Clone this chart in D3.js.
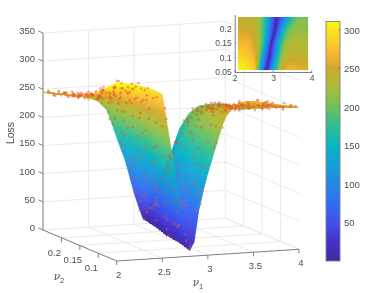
<!DOCTYPE html>
<html>
<head>
<meta charset="utf-8">
<script src="https://cdnjs.cloudflare.com/ajax/libs/d3/7.8.5/d3.min.js"></script>
<style>
  html, body { margin: 0; padding: 0; background: #fff; }
  svg { display: block; filter: blur(0.3px); }
  text { font-family: "Liberation Sans", Arial, sans-serif; fill: #4d4d4d; }
</style>
</head>
<body>
<div id="chartContainer"></div>
<script>
"use strict";

// loss surface, one list per nu2 row
var nu1Grid = [2, 2.1, 2.2, 2.3, 2.4, 2.5, 2.6, 2.7, 2.75, 2.8, 2.85, 2.9, 2.95, 3, 3.05, 3.1, 3.15, 3.2, 3.3, 3.4, 3.5, 3.6, 3.7, 3.8, 3.9, 4];
var nu2Grid = [0.05, 0.1, 0.15, 0.2, 0.25];
var lossAt005 = [316, 314, 311, 306, 300, 291, 190, 95, 50, 10, 25, 80, 115, 145, 172, 198, 225, 245, 262, 268, 268, 265, 262, 258, 255, 252];
var lossAt010 = [285, 289, 288, 284, 278, 268, 235, 150, 110, 75, 40, 8, 45, 85, 120, 152, 180, 205, 235, 245, 246, 245, 243, 241, 240, 238];
var lossAt015 = [265, 267, 269, 268, 262, 250, 235, 195, 165, 130, 95, 55, 7, 45, 80, 112, 145, 172, 212, 225, 230, 231, 229, 227, 225, 224];
var lossAt020 = [255, 252, 249, 249, 248, 243, 228, 200, 180, 158, 130, 100, 70, 38, 6, 35, 75, 108, 165, 192, 208, 214, 214, 212, 210, 208];
var lossAt025 = [245, 242, 240, 237, 233, 230, 223, 206, 184, 160, 137, 115, 85, 55, 30, 8, 25, 45, 85, 120, 165, 190, 202, 204, 204, 203];
var lossRows = [lossAt005, lossAt010, lossAt015, lossAt020, lossAt025];
// where each row has its minimum, the valley runs at a slant
var valleyNu1 = [2.8, 2.9, 2.95, 3.05, 3.1];

// tick labels
var lossTicks = [0, 50, 100, 150, 200, 250, 300, 350];
var nu1Ticks = [2, 2.5, 3, 3.5, 4];
var nu2Ticks = [0.1, 0.15, 0.2];
var colorbarTicks = [50, 100, 150, 200, 250, 300];
var insetNu1Ticks = [2, 3, 4];
var insetNu2Ticks = [0.05, 0.1, 0.15, 0.2];

// sampled points: estimated position on the surface and how far off it they sit
var sampleNu1 = [
  2.03,2.17,2.26,2.38,2.47,2.55,2.63,2.72,2.81,2.93,3.02,3.11,3.24,3.33,3.41,3.56,3.64,3.77,3.85,3.96,
  2.08,2.13,2.31,2.42,2.51,2.58,2.69,2.77,2.88,2.97,3.07,3.18,3.27,3.38,3.49,3.52,3.71,3.79,3.92,3.99,
  2.01,2.22,2.29,2.36,2.49,2.61,2.66,2.75,2.84,2.91,3.04,3.14,3.21,3.36,3.44,3.59,3.68,3.74,3.88,3.94,
  2.11,2.19,2.34,2.44,2.53,2.57,2.67,2.79,2.86,2.99,3.09,3.16,3.29,3.31,3.47,3.54,3.62,3.82,3.9,3.98,
  2.06,2.24,2.28,2.41,2.46,2.62,2.71,2.74,2.83,2.95,3.01,3.13,3.23,3.35,3.43,3.58,3.66,3.76,3.87,3.93,
  2.02,2.15,2.33,2.39,2.54,2.59,2.68,2.78,2.89,2.94,3.06,3.19,3.26,3.39,3.46,3.51,3.73,3.81,3.89,3.97,
  2.09,2.21,2.27,2.43,2.48,2.64,2.7,2.76,2.85,2.98,3.03,3.12,3.22,3.32,3.42,3.57,3.63,3.78,3.84,3.95,
  2.04,2.18,2.32,2.37,2.52,2.56,2.65,2.73,2.87,2.92,3.08,3.17,3.28,3.37,3.48,3.53,3.69,3.83,3.91,3.99,
  2.07,2.12,2.35,2.45,2.5,2.6,2.72,2.8,2.82,2.96,3.05,3.15,3.25,3.34,3.45,3.55,3.67,3.75,3.86,3.92,
  2.05,2.23,2.3,2.4,2.55,2.63,2.68,2.74,2.9,3,3.1,3.2,3.3,3.4,3.5,3.61,3.7,3.8,3.93,3.97,
  2.1,2.16,2.25,2.36,2.47,2.58,2.66,2.77,2.86,2.97,3.07,3.13,3.24,3.33,3.44,3.6,3.65,3.72,3.85,3.96,
  2.02,2.2,2.34,2.42,2.52,2.61,2.7,2.79,2.88,2.93,3.04,3.18,3.27,3.36,3.47,3.56,3.71,3.79,3.88,3.94,
  2.14,2.27,2.31,2.44,2.49,2.57,2.69,2.76,2.84,2.99,3.02,3.11,3.21,3.38,3.41,3.52,3.64,3.77,3.9,4,
  2,2.19,2.28,2.38,2.53,2.62,2.71,2.81,2.92,2.95,3.09,3.16,3.26,3.35,3.49,3.54,3.68,3.82,3.87,3.98,
  2.06,2.12,2.24,2.41,2.46,2.59,2.64,2.73,2.83,2.94,3.06,3.14,3.29,3.32,3.43,3.58,3.62,3.74,3.83,3.91,
  // the two nearly flat tails carry many more samples
  2.02,2.07,2.11,2.16,2.21,2.26,2.31,2.36,2.41,2.46,3.62,3.66,3.7,3.74,3.78,3.82,3.86,3.9,3.94,3.98,
  2.04,2.09,2.14,2.18,2.23,2.28,2.33,2.38,2.43,2.48,3.6,3.64,3.68,3.72,3.76,3.8,3.84,3.88,3.92,3.96,
  2.01,2.06,2.12,2.17,2.22,2.27,2.32,2.35,2.42,2.45,3.63,3.67,3.71,3.75,3.79,3.83,3.87,3.91,3.95,3.99,
  2.03,2.08,2.13,2.19,2.24,2.29,2.34,2.39,2.44,2.49,3.61,3.65,3.69,3.73,3.77,3.81,3.85,3.89,3.93,3.97
];
var sampleNu2 = [
  .052,.061,.055,.068,.058,.051,.064,.057,.053,.066,.059,.054,.062,.056,.067,.052,.06,.065,.055,.063,
  .074,.069,.081,.072,.077,.07,.083,.075,.079,.071,.084,.073,.078,.069,.082,.076,.071,.08,.074,.068,
  .088,.092,.086,.097,.09,.095,.087,.099,.093,.089,.096,.085,.094,.091,.098,.088,.092,.086,.097,.09,
  .106,.101,.111,.104,.114,.102,.108,.113,.105,.11,.103,.115,.107,.112,.101,.109,.114,.104,.106,.11,
  .121,.118,.126,.12,.129,.117,.124,.128,.122,.116,.127,.119,.125,.123,.13,.118,.121,.126,.117,.128,
  .136,.131,.14,.134,.143,.132,.138,.144,.135,.141,.133,.139,.145,.137,.131,.142,.134,.14,.136,.132,
  .15,.146,.155,.148,.158,.147,.153,.159,.149,.156,.152,.16,.146,.154,.157,.151,.148,.155,.15,.158,
  .166,.161,.17,.163,.174,.162,.168,.173,.165,.171,.164,.175,.167,.172,.161,.169,.163,.17,.166,.174,
  .181,.177,.186,.179,.189,.176,.184,.188,.18,.185,.178,.19,.182,.187,.183,.176,.189,.179,.185,.181,
  .196,.191,.201,.193,.204,.192,.198,.203,.195,.2,.194,.205,.197,.202,.191,.199,.193,.2,.196,.204,
  .211,.206,.215,.208,.218,.207,.213,.219,.21,.216,.209,.22,.212,.217,.206,.214,.208,.215,.211,.218,
  .226,.221,.23,.223,.233,.222,.228,.234,.225,.231,.224,.235,.227,.232,.221,.229,.223,.23,.226,.233,
  .241,.236,.245,.238,.248,.237,.243,.249,.24,.246,.239,.25,.242,.247,.236,.244,.238,.245,.241,.248,
  .05,.056,.053,.06,.05,.055,.058,.051,.05,.054,.057,.05,.053,.051,.059,.05,.056,.052,.058,.054,
  .25,.247,.249,.244,.25,.246,.248,.25,.245,.249,.25,.243,.248,.25,.246,.249,.244,.25,.247,.245,
  .24,.18,.22,.13,.2,.15,.23,.11,.17,.21,.23,.12,.19,.08,.16,.24,.1,.2,.14,.07,
  .21,.23,.16,.2,.09,.24,.14,.19,.22,.12,.17,.21,.06,.15,.24,.11,.19,.13,.22,.09,
  .19,.15,.25,.1,.17,.22,.12,.24,.16,.2,.2,.09,.24,.14,.18,.07,.22,.16,.11,.23,
  .16,.2,.12,.24,.18,.07,.23,.15,.21,.1,.13,.24,.17,.21,.08,.2,.15,.25,.12,.18
];
var sampleResidual = [
  4,-3,6,2,-4,5,-2,3,1,-3,4,-2,5,-4,2,3,-5,4,-3,2,
  -2,5,3,-4,6,-3,2,4,-3,1,-2,5,3,-4,2,-3,4,1,-5,3,
  5,2,-3,7,-2,4,-5,3,2,-2,-4,3,6,-3,2,5,-2,-4,3,1,
  -4,6,4,-2,3,5,-3,-2,4,2,3,-5,2,4,-3,1,-2,5,-3,2,
  3,-2,8,4,-3,2,5,-4,-1,3,2,-3,4,5,-2,-4,3,2,-3,4,
  2,7,-2,5,3,-4,2,4,-5,2,-3,4,1,-2,5,3,-3,-2,4,2,
  -3,4,6,-2,5,2,-4,3,2,-3,5,-2,4,-3,1,4,-2,3,5,-4,
  5,-2,3,4,-3,6,2,-4,3,-2,4,1,-3,5,2,-2,4,-3,2,3,
  2,5,-3,6,2,-4,3,-2,5,3,-2,4,-4,2,3,-3,5,2,-2,4,
  -2,3,7,-3,4,2,-5,3,-2,4,2,-3,5,1,-4,3,2,-2,4,-3,
  4,2,-2,5,-3,3,4,-4,2,-2,5,3,-3,2,4,-5,3,-2,2,4,
  -3,6,2,4,-2,3,-4,5,2,-3,3,-2,4,-5,2,3,-2,4,-3,2,
  5,-2,4,2,-3,5,-3,2,4,-2,3,-4,2,3,-2,5,-3,2,4,-2,
  4,3,-3,4,5,-2,4,5,-3,5,2,-4,3,5,-2,3,4,-3,5,2,
  3,-4,2,5,-2,4,3,-3,2,5,-2,4,-3,2,3,-4,5,-2,3,2,
  2,-1,3,-2,1,4,-3,2,-1,3,-2,3,1,-2,2,-1,3,-3,2,1,
  -2,3,1,-3,2,-1,4,-2,3,1,2,-2,3,1,-3,2,-1,3,-2,1,
  3,1,-2,4,-1,3,-2,1,3,-3,-1,3,-2,2,1,-3,2,-1,3,-2,
  1,-3,2,3,-2,4,1,-1,2,-2,3,-1,2,-3,1,3,-2,2,-1,3
];

// parula style colormap as seen on the colorbar
var colorStops = [0, 25, 50, 75, 100, 125, 150, 175, 200, 225, 250, 270, 290, 311];
var colorValues = ["#3d2b9e", "#4432c8", "#4150ec", "#316df2", "#2388e4", "#169fd8", "#08b4c2", "#2fbd96", "#6fc15c", "#a9bd38", "#cfa92a", "#fbb833", "#f8d624", "#f9f80f"];
var color = d3.scaleLinear().domain(colorStops).range(colorValues).clamp(true);

var width = 390, height = 293;
var svg = d3.select("#chartContainer").append("svg").attr("width", width).attr("height", height);

// box projection: the three axes as separate scales, added up in project()
var nu2ToX = d3.scaleLinear().domain([0.05, 0.25]).range([116.7, 43]);
var nu2ToY = d3.scaleLinear().domain([0.05, 0.25]).range([261, 230]);
var nu1ToX = d3.scaleLinear().domain([2, 4]).range([0, 182.3]);
var nu1ToY = d3.scaleLinear().domain([2, 4]).range([0, -11.7]);
var lossToY = d3.scaleLinear().domain([0, 350]).range([0, -197]);

function project(nu1, nu2, loss) {
  return [nu2ToX(nu2) + nu1ToX(nu1), nu2ToY(nu2) + nu1ToY(nu1) + lossToY(loss)];
}

// one row of the read grid at any nu1
function rowValue(row, nu1) {
  var v = Math.min(Math.max(nu1, 2), 4);
  var i = Math.min(d3.bisectRight(nu1Grid, v) - 1, nu1Grid.length - 2);
  var s = (v - nu1Grid[i]) / (nu1Grid[i + 1] - nu1Grid[i]);
  return (1 - s) * row[i] + s * row[i + 1];
}

// value between rows (shading interp in the original), blended along the valley so the floor stays smooth
var valleyAt = d3.scaleLinear().domain(nu2Grid).range(valleyNu1);
function lossAt(nu1, nu2) {
  var j = Math.min(Math.max(d3.bisectRight(nu2Grid, nu2) - 1, 0), nu2Grid.length - 2);
  var t = (nu2 - nu2Grid[j]) / (nu2Grid[j + 1] - nu2Grid[j]);
  var c = valleyAt(nu2);
  return (1 - t) * rowValue(lossRows[j], nu1 + valleyNu1[j] - c) +
         t * rowValue(lossRows[j + 1], nu1 + valleyNu1[j + 1] - c);
}

var line = d3.line();
function seg(g, a, b) {
  g.append("path").attr("d", line([a, b]));
}

// back walls and floor grid
var grid = svg.append("g").attr("fill", "none").attr("stroke", "#e8e8e8").attr("stroke-width", 0.9);
lossTicks.forEach(function (z) {
  seg(grid, project(2, 0.25, z), project(4, 0.25, z));
  seg(grid, project(4, 0.25, z), project(4, 0.05, z));
});
nu1Ticks.forEach(function (v) {
  seg(grid, project(v, 0.25, 0), project(v, 0.25, 350));
  seg(grid, project(v, 0.05, 0), project(v, 0.25, 0));
});
nu2Ticks.forEach(function (v) {
  seg(grid, project(4, v, 0), project(4, v, 350));
  seg(grid, project(2, v, 0), project(4, v, 0));
});

// box axes
var axes = svg.append("g").attr("fill", "none").attr("stroke", "#808080").attr("stroke-width", 1);
seg(axes, project(2, 0.25, 0), project(2, 0.25, 350));
seg(axes, project(2, 0.25, 0), project(2, 0.05, 0));
seg(axes, project(2, 0.05, 0), project(4, 0.05, 0));

lossTicks.forEach(function (z) {
  var p = project(2, 0.25, z);
  seg(axes, p, [p[0] - 4.5, p[1] - 2]);
  svg.append("text").attr("x", 35).attr("y", p[1] - 2.5).attr("dy", "0.35em")
    .attr("text-anchor", "end").attr("font-size", 9.5).text(z);
});
nu1Ticks.forEach(function (v) {
  var p = project(v, 0.05, 0);
  seg(axes, p, [p[0], p[1] + 4]);
  svg.append("text").attr("x", p[0] + 2).attr("y", p[1] + 13.5).attr("dy", "0.35em")
    .attr("text-anchor", "middle").attr("font-size", 9.5).text(v);
});
nu2Ticks.forEach(function (v) {
  var p = project(2, v, 0);
  seg(axes, p, [p[0], p[1] + 4.5]);
  svg.append("text").attr("x", p[0] - 7).attr("y", p[1] + 14.5).attr("dy", "0.35em")
    .attr("text-anchor", "middle").attr("font-size", 9.5).text(v);
});

svg.append("text").attr("transform", "translate(14,133) rotate(-90)")
  .attr("text-anchor", "middle").attr("font-size", 10.5).text("Loss");

function nuLabel(x, y, sub) {
  var t = svg.append("text").attr("x", x).attr("y", y).attr("text-anchor", "middle").attr("font-size", 10.5);
  t.append("tspan").attr("font-family", "DejaVu Serif").attr("font-style", "italic").text("\u03bd");
  t.append("tspan").attr("font-size", 7.5).attr("dy", 3).text(sub);
}
nuLabel(198, 286, "1");
nuLabel(59, 280, "2");

// surface, painted from the far corner to the near corner
var surface = svg.append("g");
var nu1Steps = [], nu2Steps = [];
var perCol = 6, perRow = 16;
nu1Grid.slice(0, -1).forEach(function (v, i) {
  d3.range(perCol).forEach(function (k) { nu1Steps.push(v + (nu1Grid[i + 1] - v) * k / perCol); });
});
nu1Steps.push(4);
nu2Grid.slice(0, -1).forEach(function (v, i) {
  d3.range(perRow).forEach(function (k) { nu2Steps.push(v + (nu2Grid[i + 1] - v) * k / perRow); });
});
nu2Steps.push(0.25);

for (var b = nu2Steps.length - 2; b >= 0; b--) {
  for (var a = nu1Steps.length - 2; a >= 0; a--) {
    var n1 = nu1Steps[a], n2 = nu1Steps[a + 1], m1 = nu2Steps[b], m2 = nu2Steps[b + 1];
    var fill = color(lossAt((n1 + n2) / 2, (m1 + m2) / 2));
    surface.append("polygon")
      .attr("points", [project(n1, m1, lossAt(n1, m1)), project(n2, m1, lossAt(n2, m1)),
                       project(n2, m2, lossAt(n2, m2)), project(n1, m2, lossAt(n1, m2))].join(" "))
      .attr("fill", fill).attr("stroke", fill).attr("stroke-width", 0.4);
  }
}

// sampled points on top
svg.append("g").selectAll("circle")
  .data(sampleNu1.map(function (v, i) { return [v, sampleNu2[i], sampleResidual[i]]; }))
  .enter().append("circle")
  .attr("cx", function (d) { return project(d[0], d[1], lossAt(d[0], d[1]) + d[2])[0]; })
  .attr("cy", function (d) { return project(d[0], d[1], lossAt(d[0], d[1]) + d[2])[1]; })
  .attr("r", 0.9)
  .attr("fill", "none")
  .attr("stroke", "#e05a28")
  .attr("stroke-width", 0.7)
  .attr("stroke-opacity", 0.85);

// inset heatmap
var insetX = d3.scaleLinear().domain([2, 4]).range([234.7, 311.7]);
var insetY = d3.scaleLinear().domain([0.05, 0.25]).range([72, 14.5]);
var insetG = svg.append("g");
var insetNu1 = d3.range(238, 308, 1), insetNu2 = d3.range(17, 70, 1);
insetNu2.forEach(function (py) {
  insetNu1.forEach(function (px) {
    insetG.append("rect").attr("x", px).attr("y", py).attr("width", 1.1).attr("height", 1.1)
      .attr("fill", color(lossAt(insetX.invert(px + 0.5), insetY.invert(py + 0.5))));
  });
});
insetG.append("g").attr("transform", "translate(0,72)")
  .call(d3.axisBottom(insetX).tickValues(insetNu1Ticks).tickSize(0).tickPadding(3).tickFormat(d3.format("d")));
insetG.append("g").attr("transform", "translate(234.7,0)")
  .call(d3.axisLeft(insetY).tickValues(insetNu2Ticks).tickSize(0).tickPadding(3).tickFormat(function (d) { return d; }));
insetG.selectAll("text").attr("font-size", 8.5).style("fill", "#4d4d4d").style("font-family", "Liberation Sans");
insetG.selectAll(".domain").attr("stroke", "#808080");
insetNu1Ticks.forEach(function (v) { seg(insetG.append("g").attr("stroke", "#808080"), [insetX(v), 72], [insetX(v), 70.5]); });
insetNu2Ticks.forEach(function (v) { seg(insetG.append("g").attr("stroke", "#808080"), [234.7, insetY(v)], [236.2, insetY(v)]); });

// colorbar
var barY = d3.scaleLinear().domain([0, 311]).range([261, 21.5]);
var defs = svg.append("defs");
var gradient = defs.append("linearGradient").attr("id", "bar").attr("x1", 0).attr("x2", 0).attr("y1", 1).attr("y2", 0);
colorStops.forEach(function (v, i) {
  gradient.append("stop").attr("offset", v / 311).attr("stop-color", colorValues[i]);
});
var bar = svg.append("g").attr("transform", "translate(340,0)");
bar.append("rect").attr("x", -14).attr("y", 21.5).attr("width", 14).attr("height", 239.5)
  .attr("fill", "url(#bar)").attr("stroke", "#808080").attr("stroke-width", 0.9);
bar.call(d3.axisRight(barY).tickValues(colorbarTicks).tickSize(0).tickPadding(4));
bar.select(".domain").remove();
bar.selectAll("text").attr("font-size", 9.5).style("fill", "#4d4d4d").style("font-family", "Liberation Sans");
colorbarTicks.forEach(function (v) { seg(bar.append("g").attr("stroke", "#666"), [-1.5, barY(v)], [0, barY(v)]); });
</script>
</body>
</html>
